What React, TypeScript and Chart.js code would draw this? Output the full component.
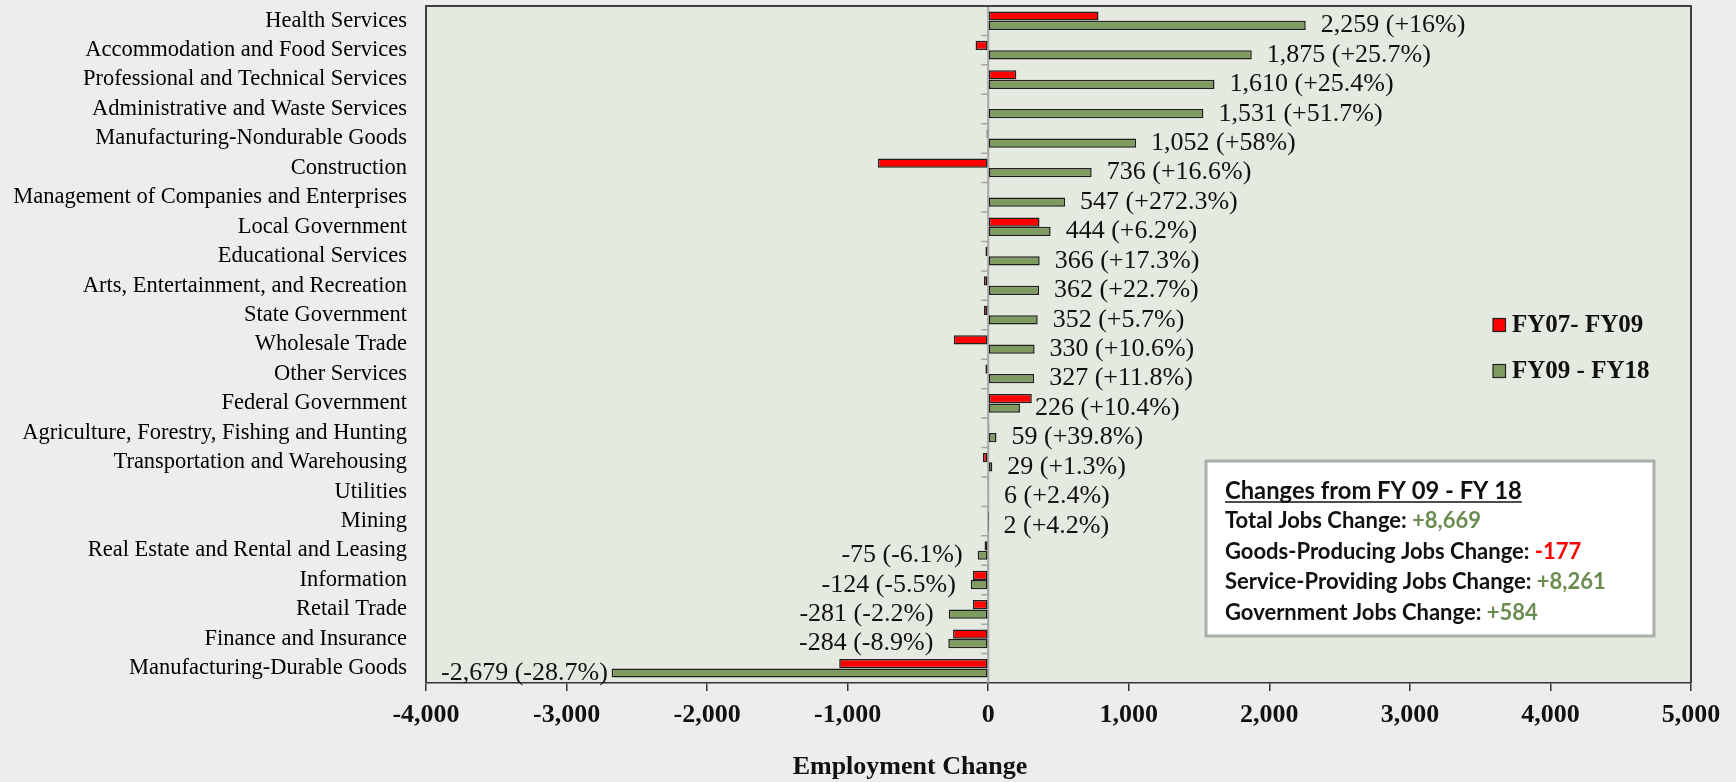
import React, { useEffect, useRef } from 'react';
import { Chart, registerables } from 'chart.js';

Chart.register(...registerables);

const categories = [
  'Health Services',
  'Accommodation and Food Services',
  'Professional and Technical Services',
  'Administrative and Waste Services',
  'Manufacturing-Nondurable Goods',
  'Construction',
  'Management of Companies and Enterprises',
  'Local Government',
  'Educational Services',
  'Arts, Entertainment, and Recreation',
  'State Government',
  'Wholesale Trade',
  'Other Services',
  'Federal Government',
  'Agriculture, Forestry, Fishing and Hunting',
  'Transportation and Warehousing',
  'Utilities',
  'Mining',
  'Real Estate and Rental and Leasing',
  'Information',
  'Retail Trade',
  'Finance and Insurance',
  'Manufacturing-Durable Goods',
];

const fy07to09 = [785, -90, 200, 0, -12, -785, 0, 365, -20, -30, -30, -245, -20, 310, 8, -38, -6, 1, -26, -109, -109, -250, -1060];

const fy09to18 = [2259, 1875, 1610, 1531, 1052, 736, 547, 444, 366, 362, 352, 330, 327, 226, 59, 29, 6, 2, -75, -124, -281, -284, -2679];

const pctLabels = ['+16%', '+25.7%', '+25.4%', '+51.7%', '+58%', '+16.6%', '+272.3%', '+6.2%', '+17.3%', '+22.7%', '+5.7%', '+10.6%', '+11.8%', '+10.4%', '+39.8%', '+1.3%', '+2.4%', '+4.2%', '-6.1%', '-5.5%', '-2.2%', '-8.9%', '-28.7%'];

const seriesNames = ['FY07- FY09', 'FY09 - FY18'];

const xMin = -4000;
const xMax = 5000;
const xStep = 1000;
const xTitle = 'Employment Change';

const summaryTitle = 'Changes from FY 09 - FY 18';
const summaryLabels = ['Total Jobs Change: ', 'Goods-Producing Jobs Change: ', 'Service-Providing Jobs Change: ', 'Government Jobs Change: '];
const summaryValues = ['+8,669', '-177', '+8,261', '+584'];

const RED = '#ff0000';
const GREEN = '#7e9c60';
const GREEN_TEXT = '#6b8c50';
const SERIF = '"Liberation Serif", "Times New Roman", serif';

const fmt = (v: number) => Number(v).toLocaleString('en-US');

const decorPlugin = {
  id: 'decor',
  beforeDraw(chart: any) {
    const { ctx, chartArea: a } = chart;
    ctx.save();
    ctx.fillStyle = '#ededed';
    ctx.fillRect(0, 0, chart.width, chart.height);
    ctx.fillStyle = '#e4eadf';
    ctx.fillRect(a.left, a.top, a.right - a.left, a.bottom - a.top);
    ctx.restore();
  },
  beforeDatasetsDraw(chart: any) {
    const { ctx, chartArea: a } = chart;
    const x0 = chart.scales.x.getPixelForValue(0);
    const yScale = chart.scales.y;
    const n = categories.length;
    const band = (a.bottom - a.top) / n;
    ctx.save();
    ctx.strokeStyle = '#a6a6a6';
    ctx.lineWidth = 2;
    ctx.beginPath();
    ctx.moveTo(x0, a.top);
    ctx.lineTo(x0, a.bottom);
    ctx.stroke();
    ctx.lineWidth = 1.5;
    ctx.beginPath();
    for (let i = 1; i < n; i++) {
      const y = yScale.getPixelForValue(i) - band / 2;
      ctx.moveTo(x0 - 7, y);
      ctx.lineTo(x0, y);
    }
    ctx.stroke();
    ctx.restore();
  },
  afterDatasetsDraw(chart: any) {
    const { ctx, chartArea: a } = chart;
    const meta = chart.getDatasetMeta(1);
    ctx.save();
    ctx.font = `26px ${SERIF}`;
    ctx.fillStyle = '#111';
    ctx.textBaseline = 'middle';
    ctx.textAlign = 'left';
    meta.data.forEach((bar: any, i: number) => {
      const v = fy09to18[i];
      const text = `${fmt(v)} (${pctLabels[i]})`;
      const w = ctx.measureText(text).width;
      let x;
      if (v >= 0) {
        x = bar.x + 15;
      } else {
        x = Math.max(bar.x - 15 - w, a.left + 15);
      }
      ctx.fillText(text, x, bar.y);
    });
    ctx.restore();
  },
  afterDraw(chart: any) {
    const { ctx, chartArea: a } = chart;
    ctx.save();
    // plot frame
    ctx.strokeStyle = '#404040';
    ctx.lineWidth = 2;
    ctx.beginPath();
    ctx.moveTo(a.left, a.bottom);
    ctx.lineTo(a.left, a.top);
    ctx.lineTo(a.right, a.top);
    ctx.lineTo(a.right, a.bottom);
    ctx.stroke();

    // axis title
    ctx.font = `bold 26px ${SERIF}`;
    ctx.fillStyle = '#111';
    ctx.textAlign = 'center';
    ctx.textBaseline = 'middle';
    ctx.fillText(xTitle, 910, 767);

    // legend
    const colors = [RED, GREEN];
    const legendY = [325, 371];
    ctx.font = `bold 25px ${SERIF}`;
    ctx.textBaseline = 'middle';
    ctx.textAlign = 'left';
    seriesNames.forEach((name, i) => {
      ctx.fillStyle = colors[i];
      ctx.fillRect(1493, legendY[i] - 6.5, 12.5, 13);
      ctx.strokeStyle = '#222';
      ctx.lineWidth = 1.2;
      ctx.strokeRect(1493, legendY[i] - 6.5, 12.5, 13);
      ctx.fillStyle = '#111';
      ctx.fillText(name, 1512, legendY[i] + 1);
    });

    // summary box
    const bx = 1206, by = 461, bw = 448, bh = 175;
    ctx.fillStyle = '#ffffff';
    ctx.fillRect(bx, by, bw, bh);
    ctx.strokeStyle = '#a9aea9';
    ctx.lineWidth = 3;
    ctx.strokeRect(bx, by, bw, bh);

    const sans = 'Lato, "Open Sans", sans-serif';
    let ts = 24;
    ctx.font = `bold ${ts}px ${sans}`;
    ts = ts * 297 / ctx.measureText(summaryTitle).width;
    ctx.font = `bold ${ts}px ${sans}`;
    ctx.fillStyle = '#111';
    ctx.textBaseline = 'middle';
    const tx = 1225;
    ctx.fillText(summaryTitle, tx, 491);
    const tw = ctx.measureText(summaryTitle).width;
    ctx.strokeStyle = '#111';
    ctx.lineWidth = 1.5;
    ctx.beginPath();
    ctx.moveTo(tx, 502);
    ctx.lineTo(tx + tw, 502);
    ctx.stroke();

    let fs = 20;
    ctx.font = `bold ${fs}px ${sans}`;
    fs = fs * 381 / ctx.measureText(summaryLabels[2] + summaryValues[2]).width;
    ctx.font = `bold ${fs}px ${sans}`;
    const lineY = [521, 551.5, 582, 612.5];
    summaryLabels.forEach((lab, i) => {
      ctx.fillStyle = '#111';
      ctx.fillText(lab, tx, lineY[i]);
      const w = ctx.measureText(lab).width;
      ctx.fillStyle = summaryValues[i].startsWith('-') ? RED : GREEN_TEXT;
      ctx.fillText(summaryValues[i], tx + w, lineY[i]);
    });
    ctx.restore();
  },
};

export default function App() {
  const canvasRef = useRef<HTMLCanvasElement | null>(null);

  useEffect(() => {
    if (!canvasRef.current) return;
    const chart = new Chart(canvasRef.current, {
      type: 'bar',
      data: {
        labels: categories,
        datasets: [
          {
            label: seriesNames[0],
            data: fy07to09,
            backgroundColor: RED,
            borderColor: '#1f1f1f',
            borderWidth: 1.5,
            borderSkipped: false,
            categoryPercentage: 0.64,
            barPercentage: 0.98,
          },
          {
            label: seriesNames[1],
            data: fy09to18,
            backgroundColor: GREEN,
            borderColor: '#1f1f1f',
            borderWidth: 1.5,
            borderSkipped: false,
            categoryPercentage: 0.64,
            barPercentage: 0.98,
          },
        ],
      },
      options: {
        indexAxis: 'y',
        animation: false,
        responsive: true,
        maintainAspectRatio: false,
        layout: { padding: { left: 0, right: 45, top: 6, bottom: 0 } },
        plugins: {
          legend: { display: false },
          tooltip: { enabled: false },
          title: { display: false },
        },
        scales: {
          x: {
            type: 'linear',
            min: xMin,
            max: xMax,
            afterFit: (scale: any) => {
              scale.height = 99;
              scale.paddingLeft = 0;
              scale.paddingRight = 0;
            },
            ticks: {
              stepSize: xStep,
              color: '#111',
              padding: 9,
              font: { family: SERIF, size: 26, weight: 'bold' },
              callback: (v: any) => fmt(v),
            },
            grid: {
              display: true,
              drawOnChartArea: false,
              drawTicks: true,
              tickLength: 8,
              color: '#333',
              lineWidth: 1.5,
            },
            border: { display: true, color: '#333', width: 1.5 },
            title: { display: false },
          },
          y: {
            type: 'category',
            afterFit: (scale: any) => {
              scale.width = 426;
              scale.paddingTop = 0;
              scale.paddingBottom = 0;
            },
            ticks: {
              color: '#000',
              padding: 19,
              font: { family: SERIF, size: 22.5 },
              autoSkip: false,
            },
            grid: { display: false, drawTicks: false },
            border: { display: false },
          },
        },
      } as any,
      plugins: [decorPlugin],
    });
    return () => chart.destroy();
  }, []);

  return (
    <div style={{ position: 'fixed', left: 0, top: 0, width: 1736, height: 782, background: '#ededed' }}>
      <canvas ref={canvasRef} />
    </div>
  );
}
